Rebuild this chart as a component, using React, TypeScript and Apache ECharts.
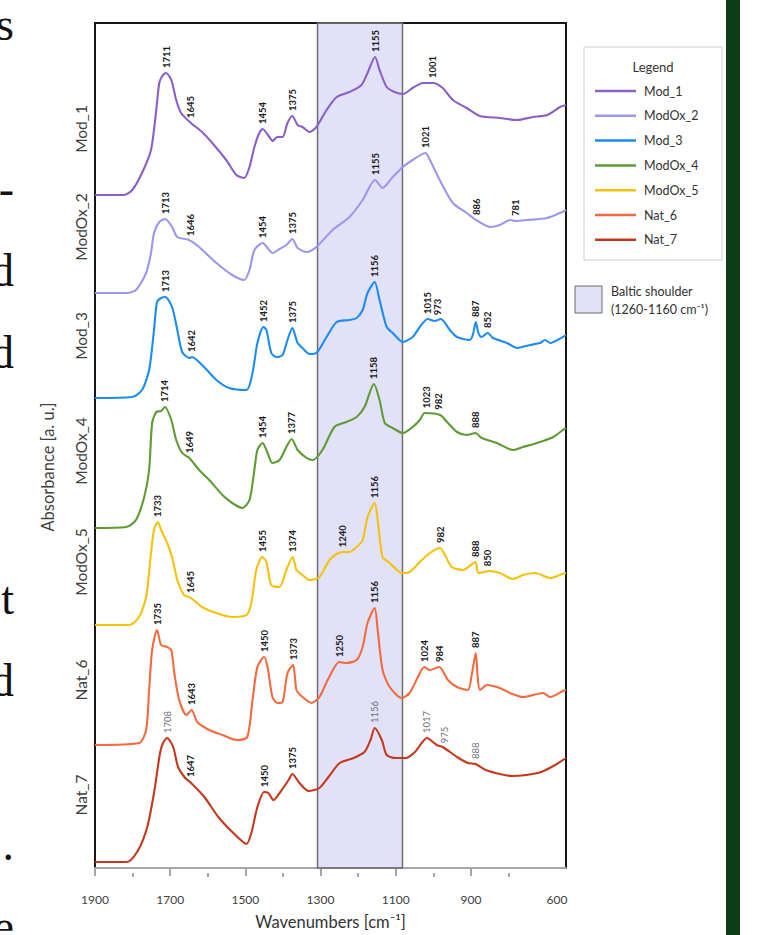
import React, { useEffect, useRef } from "react";
import * as echarts from "echarts";

// ---------- data ----------
const seriesNames = ["Mod_1", "ModOx_2", "Mod_3", "ModOx_4", "ModOx_5", "Nat_6", "Nat_7"];
const seriesColors = ["#8c5ec8", "#9c96ee", "#1c8cf0", "#5e9b34", "#f4c20c", "#f26a3e", "#c4391d"];
// vertical stacking offset of each spectrum (a. u.)
const baselineOffsets = [6.73, 5.75, 4.7, 3.4, 2.43, 1.23, 0.06];
// level of the series-name tick label on the absorbance axis
const nameLabelLevels = [7.39, 6.41, 5.32, 4.17, 3.06, 1.88, 0.73];

// [wavenumber cm-1, relative absorbance]
const mod1: [number, number][] = [
  [1900, 0], [1823, 0], [1801, 0.05], [1775, 0.22], [1751, 0.45], [1737, 0.85], [1729, 1.12], [1721, 1.19],
  [1711, 1.22], [1697, 1.15], [1684, 0.95], [1671, 0.82], [1645, 0.72], [1615, 0.63], [1588, 0.52],
  [1551, 0.35], [1524, 0.2], [1503, 0.17], [1489, 0.28], [1476, 0.48], [1463, 0.62], [1454, 0.66],
  [1436, 0.58], [1428, 0.54], [1415, 0.58], [1401, 0.58], [1388, 0.72], [1375, 0.79], [1361, 0.7],
  [1348, 0.68], [1329, 0.63], [1311, 0.68], [1284, 0.85], [1257, 0.98], [1223, 1.03], [1191, 1.1],
  [1175, 1.22], [1155, 1.38], [1143, 1.25], [1124, 1.08], [1103, 1.03], [1081, 1.01], [1055, 1.07],
  [1028, 1.12], [1001, 1.12], [975, 1.07], [948, 0.95], [911, 0.87], [876, 0.79], [823, 0.77],
  [777, 0.75], [735, 0.78], [697, 0.8], [663, 0.88], [647, 0.9],
];
const modOx2: [number, number][] = [
  [1900, 0], [1815, 0], [1791, 0.03], [1764, 0.2], [1751, 0.4], [1743, 0.6], [1729, 0.71], [1713, 0.74],
  [1695, 0.66], [1681, 0.56], [1650, 0.53], [1623, 0.46], [1577, 0.3], [1535, 0.18], [1503, 0.13],
  [1489, 0.23], [1476, 0.43], [1454, 0.5], [1441, 0.45], [1428, 0.4], [1409, 0.44], [1391, 0.48],
  [1375, 0.54], [1361, 0.45], [1337, 0.41], [1311, 0.46], [1268, 0.63], [1223, 0.76], [1188, 0.93],
  [1155, 1.13], [1135, 1.05], [1108, 1.16], [1081, 1.26], [1055, 1.33], [1021, 1.4], [1009, 1.33],
  [983, 1.13], [948, 0.9], [911, 0.8], [886, 0.73], [849, 0.66], [823, 0.68], [796, 0.73], [781, 0.72],
  [751, 0.73], [697, 0.75], [657, 0.81], [647, 0.83],
];
const mod3: [number, number][] = [
  [1900, 0], [1801, 0.01], [1775, 0.08], [1756, 0.28], [1743, 0.68], [1735, 0.96], [1724, 1.0], [1713, 1.01],
  [1695, 0.91], [1681, 0.68], [1668, 0.46], [1649, 0.4], [1642, 0.41], [1615, 0.33], [1577, 0.18],
  [1543, 0.1], [1497, 0.08], [1481, 0.25], [1468, 0.55], [1452, 0.71], [1444, 0.68], [1431, 0.45],
  [1417, 0.41], [1401, 0.43], [1388, 0.58], [1375, 0.7], [1361, 0.55], [1348, 0.5], [1329, 0.44],
  [1311, 0.45], [1284, 0.61], [1257, 0.76], [1223, 0.78], [1204, 0.8], [1188, 0.88], [1175, 1.05],
  [1156, 1.16], [1143, 0.98], [1124, 0.71], [1108, 0.65], [1081, 0.56], [1055, 0.61], [1036, 0.71],
  [1015, 0.79], [996, 0.77], [980, 0.79], [956, 0.68], [937, 0.61], [903, 0.58], [895, 0.63], [887, 0.76],
  [880, 0.65], [872, 0.61], [855, 0.65], [841, 0.6], [804, 0.55], [777, 0.5], [743, 0.53], [716, 0.55],
  [703, 0.58], [689, 0.55], [655, 0.61], [647, 0.63],
];
const modOx4: [number, number][] = [
  [1900, 0], [1817, 0.01], [1791, 0.08], [1769, 0.31], [1756, 0.58], [1748, 1.05], [1737, 1.16], [1724, 1.17],
  [1714, 1.21], [1697, 1.08], [1684, 0.88], [1668, 0.75], [1649, 0.7], [1623, 0.58], [1596, 0.48],
  [1561, 0.33], [1535, 0.25], [1508, 0.2], [1489, 0.28], [1476, 0.58], [1468, 0.78], [1454, 0.85],
  [1441, 0.75], [1428, 0.65], [1409, 0.68], [1391, 0.81], [1377, 0.89], [1361, 0.78], [1337, 0.7],
  [1321, 0.68], [1295, 0.78], [1263, 1.01], [1231, 1.06], [1204, 1.11], [1183, 1.21], [1158, 1.44],
  [1143, 1.28], [1129, 1.05], [1108, 1.0], [1081, 0.95], [1055, 1.01], [1036, 1.08], [1023, 1.15],
  [982, 1.13], [961, 1.05], [937, 0.96], [911, 0.93], [888, 0.95], [871, 0.9], [831, 0.85], [788, 0.78],
  [761, 0.81], [716, 0.86], [681, 0.91], [655, 0.98], [647, 1.0],
];
const modOx5: [number, number][] = [
  [1900, 0], [1809, 0], [1783, 0.08], [1764, 0.28], [1751, 0.72], [1743, 0.95], [1733, 1.03], [1724, 0.95],
  [1708, 0.82], [1695, 0.68], [1681, 0.45], [1663, 0.3], [1645, 0.27], [1615, 0.18], [1577, 0.12],
  [1535, 0.08], [1497, 0.1], [1484, 0.22], [1471, 0.55], [1455, 0.68], [1444, 0.63], [1431, 0.4],
  [1409, 0.38], [1391, 0.55], [1374, 0.68], [1364, 0.55], [1348, 0.5], [1329, 0.45], [1303, 0.48],
  [1276, 0.65], [1257, 0.71], [1240, 0.73], [1223, 0.73], [1204, 0.78], [1188, 0.85], [1175, 1.08],
  [1156, 1.22], [1148, 1.05], [1135, 0.68], [1116, 0.62], [1084, 0.52], [1063, 0.53], [1036, 0.63],
  [1009, 0.72], [982, 0.77], [969, 0.7], [951, 0.58], [921, 0.55], [888, 0.63], [880, 0.52], [850, 0.54],
  [823, 0.52], [788, 0.46], [761, 0.5], [729, 0.52], [689, 0.47], [657, 0.51], [647, 0.52],
];
const nat6: [number, number][] = [
  [1900, 0], [1783, 0.02], [1764, 0.15], [1756, 0.55], [1748, 0.95], [1735, 1.15], [1724, 1.0], [1708, 0.98],
  [1697, 0.95], [1689, 0.72], [1676, 0.45], [1657, 0.3], [1643, 0.35], [1628, 0.23], [1596, 0.15],
  [1561, 0.1], [1524, 0.05], [1495, 0.08], [1481, 0.45], [1468, 0.78], [1450, 0.88], [1441, 0.78],
  [1428, 0.48], [1415, 0.42], [1401, 0.43], [1388, 0.72], [1373, 0.8], [1364, 0.55], [1348, 0.48],
  [1324, 0.42], [1303, 0.48], [1281, 0.65], [1250, 0.83], [1231, 0.82], [1204, 0.85], [1188, 0.98],
  [1175, 1.22], [1156, 1.37], [1148, 1.15], [1135, 0.75], [1116, 0.58], [1084, 0.47], [1063, 0.52],
  [1041, 0.68], [1024, 0.78], [1009, 0.75], [984, 0.78], [961, 0.65], [937, 0.58], [908, 0.55],
  [897, 0.72], [887, 0.92], [882, 0.68], [876, 0.55], [857, 0.6], [823, 0.57], [796, 0.52], [761, 0.48],
  [708, 0.52], [689, 0.48], [655, 0.54], [647, 0.55],
];
const nat7: [number, number][] = [
  [1900, 0], [1815, 0], [1785, 0.12], [1761, 0.35], [1743, 0.69], [1727, 1.09], [1719, 1.19], [1708, 1.24],
  [1692, 1.15], [1679, 0.95], [1660, 0.84], [1647, 0.8], [1609, 0.65], [1572, 0.45], [1532, 0.29],
  [1497, 0.18], [1484, 0.29], [1468, 0.55], [1450, 0.7], [1439, 0.69], [1425, 0.62], [1407, 0.7],
  [1385, 0.82], [1375, 0.88], [1356, 0.79], [1332, 0.71], [1303, 0.74], [1279, 0.85], [1249, 0.99],
  [1212, 1.04], [1183, 1.1], [1167, 1.22], [1156, 1.34], [1137, 1.22], [1124, 1.07], [1100, 1.04],
  [1073, 1.04], [1049, 1.1], [1031, 1.19], [1017, 1.24], [991, 1.17], [975, 1.15], [937, 1.05],
  [908, 0.99], [888, 0.98], [860, 0.92], [823, 0.88], [791, 0.86], [753, 0.87], [713, 0.9], [676, 0.97],
  [647, 1.04],
];

// peak annotations: [label, wavenumber where it stands, bold]
const mod1Peaks: [string, number, boolean][] = [
  ["1711", 1711, true], ["1645", 1645, true], ["1454", 1454, true], ["1375", 1375, true], ["1155", 1155, true], ["1001", 1001, true],
];
const modOx2Peaks: [string, number, boolean][] = [
  ["1713", 1713, true], ["1646", 1646, true], ["1454", 1454, true], ["1375", 1375, true], ["1155", 1155, true],
  ["1021", 1021, true], ["886", 886, true], ["781", 781, true],
];
const mod3Peaks: [string, number, boolean][] = [
  ["1713", 1713, true], ["1642", 1642, true], ["1452", 1452, true], ["1375", 1375, true], ["1156", 1156, true],
  ["1015", 1015, true], ["973", 990, true], ["887", 887, true], ["852", 855, true],
];
const modOx4Peaks: [string, number, boolean][] = [
  ["1714", 1714, true], ["1649", 1649, true], ["1454", 1454, true], ["1377", 1377, true], ["1158", 1158, true],
  ["1023", 1018, true], ["982", 986, true], ["888", 888, true],
];
const modOx5Peaks: [string, number, boolean][] = [
  ["1733", 1733, true], ["1645", 1645, true], ["1455", 1455, true], ["1374", 1374, true], ["1240", 1242, true],
  ["1156", 1156, true], ["982", 982, true], ["888", 888, true], ["850", 855, true],
];
const nat6Peaks: [string, number, boolean][] = [
  ["1735", 1735, true], ["1643", 1643, true], ["1450", 1450, true], ["1373", 1373, true], ["1250", 1250, true],
  ["1156", 1156, true], ["1024", 1024, true], ["984", 984, true], ["887", 887, true],
];
const nat7Peaks: [string, number, boolean][] = [
  ["1708", 1708, false], ["1647", 1647, true], ["1450", 1450, true], ["1375", 1375, true], ["1156", 1156, false],
  ["1017", 1017, false], ["975", 970, false], ["888", 888, false],
];

const spectra = [mod1, modOx2, mod3, modOx4, modOx5, nat6, nat7];
const peakSets = [mod1Peaks, modOx2Peaks, mod3Peaks, modOx4Peaks, modOx5Peaks, nat6Peaks, nat7Peaks];

// axis
const xMin = 647;
const xMax = 1900;
const xMajorTicks = [1900, 1700, 1500, 1300, 1100, 900];
const xMinorTicks = [1800, 1600, 1400, 1200, 1000, 800];
const xEndLabel = "600";
const yMax = 8.45;
// Baltic shoulder band as drawn (wavenumber)
const bandRange: [number, number] = [1308, 1082];

// left page-text fragments [char, line index]
const pageLetters: [string, number][] = [["s", 0], ["-", 2], ["d", 3], ["d", 4], ["t", 7], ["d", 8], [".", 10], ["e", 11]];

const FONT = "Lato, 'Open Sans', sans-serif";

function interp(pts: [number, number][], w: number): number {
  for (let i = 0; i < pts.length - 1; i++) {
    const [w0, a0] = pts[i];
    const [w1, a1] = pts[i + 1];
    if ((w <= w0 && w >= w1) || (w >= w0 && w <= w1)) {
      if (w0 === w1) return a0;
      return a0 + ((w - w0) / (w1 - w0)) * (a1 - a0);
    }
  }
  return pts[pts.length - 1][1];
}

export default function App() {
  const ref = useRef<HTMLDivElement>(null);

  useEffect(() => {
    if (!ref.current) return;
    const chart = echarts.init(ref.current, null, { renderer: "svg" });
    const endLabelPos = xMin + 24;

    const lineSeries = spectra.map((pts, i) => ({
      name: seriesNames[i],
      type: "line",
      symbol: "none",
      smooth: 0.25,
      z: 2,
      data: pts.map(([w, a]) => [w, a + baselineOffsets[i]]),
      lineStyle: { color: seriesColors[i], width: 2.1 },
      itemStyle: { color: seriesColors[i] },
      markPoint: {
        silent: true,
        symbol: "circle",
        symbolSize: 2,
        itemStyle: { color: "rgba(0,0,0,0)" },
        label: {
          show: true,
          position: [1, -4],
          rotate: 90,
          align: "left",
          verticalAlign: "middle",
          fontSize: 9.5,
          fontFamily: FONT,
          formatter: (p: any) => String(p.value),
        },
        data: peakSets[i].map(([txt, w, bold]) => ({
          coord: [w, interp(pts, w) + baselineOffsets[i]],
          value: txt,
          label: { fontWeight: bold ? "bold" : "normal", color: bold ? "#1a1a1a" : "#6e6e7a" },
        })),
      },
    }));

    const bandSeries = {
      name: "Baltic shoulder",
      type: "line",
      data: [],
      z: 3,
      silent: true,
      markArea: {
        silent: true,
        itemStyle: { color: "rgba(170,170,235,0.35)", borderColor: "#6e6e6e", borderWidth: 1.5 },
        data: [[{ xAxis: bandRange[0] }, { xAxis: bandRange[1] }]],
      },
    };

    const graphics: any[] = [
      { type: "rect", z: 0, shape: { x: 584, y: 47, width: 138, height: 213 }, style: { fill: "#fff", stroke: "#cfcfcf", lineWidth: 1 } },
      { type: "text", x: 653, y: 67, style: { text: "Legend", fontSize: 13, fontFamily: FONT, fill: "#333", align: "center", verticalAlign: "middle" } },
      { type: "rect", shape: { x: 575, y: 286, width: 27, height: 27 }, style: { fill: "#e1e1f8", stroke: "#6e6e6e", lineWidth: 1 } },
      { type: "text", x: 611, y: 291, style: { text: "Baltic shoulder", fontSize: 12.5, fontFamily: FONT, fill: "#333", align: "left", verticalAlign: "middle" } },
      { type: "text", x: 611, y: 309, style: { text: "(1260-1160 cm\u207B\u00B9)", fontSize: 12.5, fontFamily: FONT, fill: "#333", align: "left", verticalAlign: "middle" } },
      {
        type: "text", x: 48, y: 467, rotation: Math.PI / 2,
        style: { text: "Absorbance [a. u.]", fontSize: 16.5, fontFamily: FONT, fill: "#404040", align: "center", verticalAlign: "middle" },
      },
      { type: "rect", shape: { x: 726, y: 0, width: 14, height: 935 }, style: { fill: "#0f3d15" } },
      ...pageLetters.map(([ch, row]) => ({
        type: "text",
        x: 14,
        y: 39 + 82 * row - 15,
        style: { text: ch, fontSize: 46, fontFamily: "'Liberation Serif', 'DejaVu Serif', serif", fill: "#111", align: "right", verticalAlign: "middle" },
      })),
    ];

    chart.setOption({
      animation: false,
      backgroundColor: "#ffffff",
      textStyle: { fontFamily: FONT },
      grid: {
        left: 95, top: 23, right: 194, bottom: 67,
        show: true, borderColor: "#161616", borderWidth: 2, backgroundColor: "transparent",
      },
      legend: {
        data: seriesNames,
        orient: "vertical",
        left: 595,
        top: 84,
        icon: "rect",
        itemWidth: 41,
        itemHeight: 2.5,
        itemGap: 10.8,
        padding: 0,
        textStyle: { fontSize: 12.5, lineHeight: 14, color: "#333", fontFamily: FONT, padding: [0, 0, 0, 3] },
      },
      xAxis: [
        {
          type: "value", position: "bottom", min: xMin, max: xMax, inverse: true, offset: 5,
          axisLine: { show: true, lineStyle: { color: "#a6a6a6", width: 2 } },
          axisTick: { show: true, customValues: xMajorTicks, length: 8, lineStyle: { color: "#a6a6a6", width: 2 } },
          axisLabel: {
            show: true,
            customValues: [...xMajorTicks, endLabelPos],
            formatter: (v: number) => (v === endLabelPos ? xEndLabel : String(v)),
            color: "#404040", fontSize: 12, fontFamily: FONT, margin: 20,
          },
          splitLine: { show: false },
          name: "Wavenumbers [cm\u207B\u00B9]",
          nameLocation: "middle",
          nameGap: 40,
          nameTextStyle: { fontSize: 16.5, color: "#333", fontFamily: FONT },
        },
        {
          type: "value", position: "bottom", min: xMin, max: xMax, inverse: true, offset: 5,
          axisLine: { show: false },
          axisTick: { show: true, customValues: xMinorTicks, length: 4, lineStyle: { color: "#a6a6a6", width: 2 } },
          axisLabel: { show: false },
          splitLine: { show: false },
        },
      ],
      yAxis: {
        type: "value", min: 0, max: yMax,
        axisLine: { show: false },
        axisTick: { show: false },
        splitLine: { show: false },
        axisLabel: {
          show: true,
          customValues: nameLabelLevels,
          rotate: 90,
          margin: 6,
          fontSize: 15.5,
          color: "#404040",
          fontFamily: FONT,
          formatter: (v: number) => {
            let best = 0;
            nameLabelLevels.forEach((l, i) => {
              if (Math.abs(l - v) < Math.abs(nameLabelLevels[best] - v)) best = i;
            });
            return seriesNames[best];
          },
        },
      },
      graphic: graphics,
      series: [...lineSeries, bandSeries],
    });

    return () => chart.dispose();
  }, []);

  return (
    <div
      ref={ref}
      style={{ position: "fixed", left: 0, top: 0, width: 760, height: 935, background: "#fff" }}
    />
  );
}
